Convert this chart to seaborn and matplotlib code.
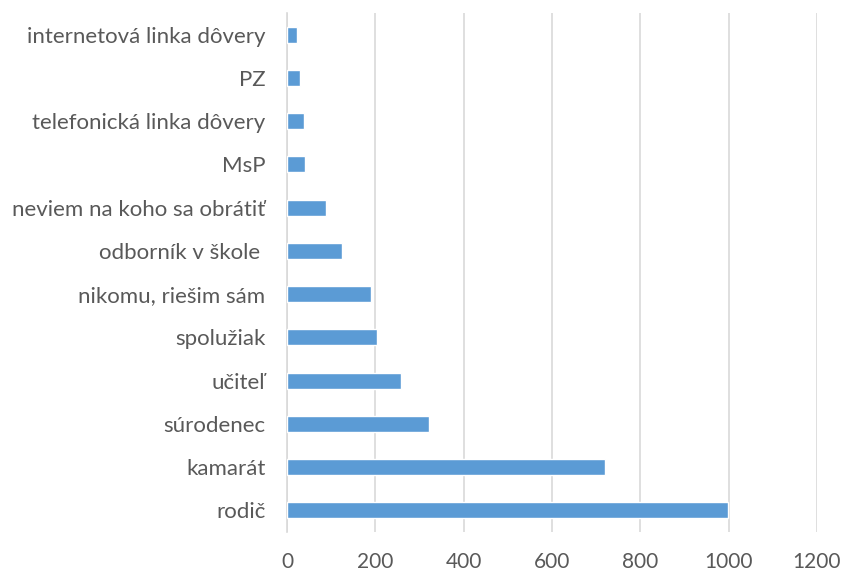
import pandas as pd
import seaborn as sns
import matplotlib.pyplot as plt

categories = ["internetová linka dôvery", "PZ", "telefonická linka dôvery", "MsP",
              "neviem na koho sa obrátiť", "odborník v škole ", "nikomu, riešim sám",
              "spolužiak", "učiteľ", "súrodenec", "kamarát", "rodič"]
values = [22, 30, 38, 40, 88, 124, 191, 204, 258, 322, 720, 999]
xticks = [0, 200, 400, 600, 800, 1000, 1200]

df = pd.DataFrame({"kto": categories, "pocet": values})

sns.set_style("white")
plt.rcParams['font.family'] = ['Lato', 'DejaVu Sans']

fig = plt.figure(figsize=(8.45, 5.71), dpi=100)
ax = fig.add_axes([287 / 845, 1 - 532 / 571, (817 - 287) / 845, (532 - 13) / 571])

sns.barplot(data=df, x="pocet", y="kto", color="#5B9BD5", width=0.37,
            saturation=1, ax=ax, zorder=3)

ax.set_xlim(0, 1200)
ax.set_xticks(xticks)
ax.xaxis.grid(True, color="#d9d9d9", linewidth=1.2, zorder=0)
ax.set_xlabel("")
ax.set_ylabel("")
for s in ["top", "right", "bottom"]:
    ax.spines[s].set_visible(False)
ax.spines["left"].set_color("#d9d9d9")
ax.spines["left"].set_linewidth(1.2)
ax.tick_params(axis="x", length=0, labelsize=15, colors="#595959", pad=14.5)
ax.tick_params(axis="y", length=0, labelsize=16, colors="#595959", pad=15.5)

fig.savefig("out.png", dpi=100)
